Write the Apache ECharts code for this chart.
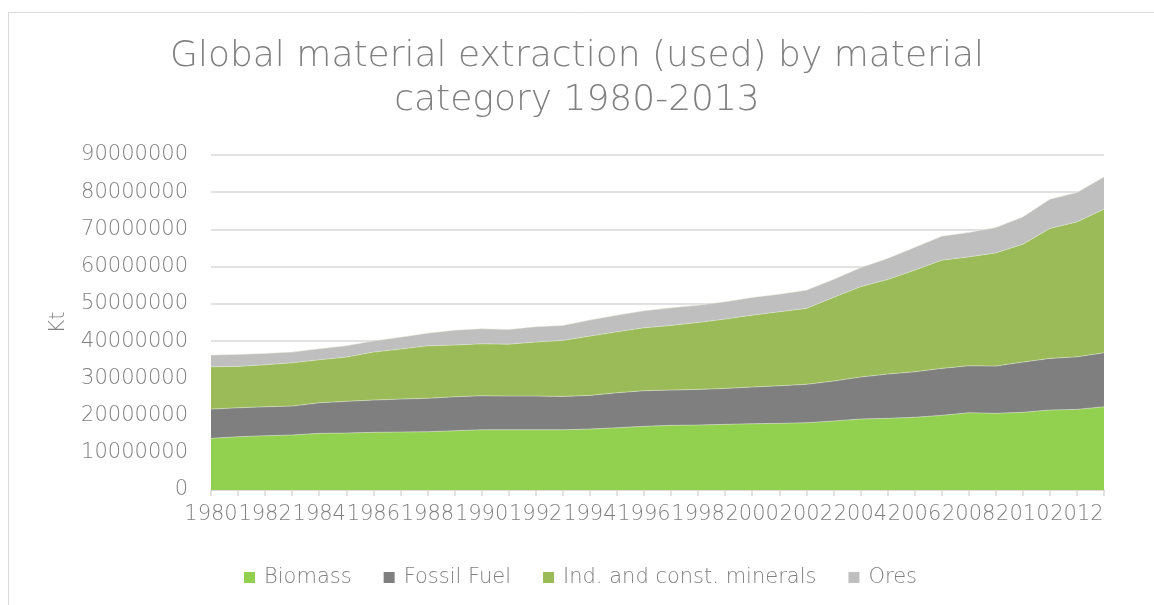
<!DOCTYPE html>
<html>
<head>
<meta charset="utf-8">
<script src="https://cdn.jsdelivr.net/npm/echarts@6/dist/echarts.min.js"></script>
<style>
html,body{margin:0;padding:0;background:#fff;}
#c{width:1154px;height:605px;}
</style>
</head>
<body>
<div id="c"></div>
<script>
const years = ['1980','1981','1982','1983','1984','1985','1986','1987','1988','1989','1990','1991','1992','1993','1994','1995','1996','1997','1998','1999','2000','2001','2002','2003','2004','2005','2006','2007','2008','2009','2010','2011','2012','2013'];
const biomass = [13880000,14310000,14580000,14770000,15220000,15300000,15490000,15570000,15650000,15920000,16190000,16190000,16190000,16190000,16380000,16720000,17100000,17370000,17450000,17640000,17800000,17910000,18070000,18520000,19060000,19250000,19520000,20050000,20750000,20590000,20860000,21480000,21660000,22360000];
const fossilFuel = [7860000,7780000,7780000,7780000,8220000,8510000,8670000,8860000,8970000,9130000,9130000,9040000,9040000,8960000,9040000,9400000,9560000,9480000,9580000,9660000,9850000,10090000,10310000,10740000,11280000,11890000,12240000,12620000,12620000,12700000,13500000,13880000,14120000,14500000];
const minerals = [11360000,11120000,11280000,11620000,11540000,11890000,12890000,13420000,14120000,13880000,13950000,13960000,14500000,15040000,15920000,16380000,16910000,17360000,17990000,18610000,19330000,19870000,20400000,22470000,24240000,25420000,27300000,29070000,29260000,30410000,31680000,34900000,36250000,38580000];
const ores = [3140000,3220000,3060000,2880000,2950000,3040000,3000000,3200000,3400000,4020000,4030000,3950000,4110000,4020000,4300000,4480000,4560000,4730000,4640000,4640000,4750000,4750000,4910000,4830000,5100000,5640000,6090000,6450000,6550000,6820000,7330000,7860000,7890000,8670000];
const seriesNames = ['Biomass','Fossil Fuel','Ind. and const. minerals','Ores'];
const colors = ['#92d050','#7f7f7f','#9bbb59','#bfbfbf'];
const dataSets = [biomass, fossilFuel, minerals, ores];

const font = '"DejaVu Sans", sans-serif';
const txt = '#808080';
const chart = echarts.init(document.getElementById('c'), null, {renderer:'canvas'});
chart.setOption({
  animation:false,
  backgroundColor:'#fff',
  graphic:[{type:'rect', shape:{x:8.5,y:12.5,width:1160,height:620}, style:{fill:'none',stroke:'#d9d9d9',lineWidth:1}}],
  title:{
    text:'Global material extraction (used) by material\ncategory 1980-2013',
    left:'center', top:30, padding:[5,5,5,21],
    textStyle:{fontFamily:font,fontWeight:200,fontSize:36,color:txt,lineHeight:44}
  },
  legend:{
    data:seriesNames, left:239, top:562,
    itemWidth:11, itemHeight:11, itemGap:32, icon:'rect',
    textStyle:{fontFamily:font,fontWeight:200,fontSize:21,color:txt,padding:[0,0,0,4]}
  },
  grid:{left:211,right:50,top:155,bottom:115},
  xAxis:{
    type:'category', data:years, boundaryGap:false,
    axisLine:{lineStyle:{color:'#d9d9d9',width:1.5}},
    axisTick:{show:true,interval:0,length:6,lineStyle:{color:'#d9d9d9',width:1.5}},
    axisLabel:{interval:1,fontFamily:font,fontWeight:200,fontSize:21,color:txt,margin:14,hideOverlap:false},
    splitLine:{show:false}
  },
  yAxis:{
    type:'value', min:0, max:90000000, interval:10000000,
    name:'Kt', nameLocation:'middle', nameGap:142,
    nameTextStyle:{fontFamily:font,fontWeight:200,fontSize:21,color:txt},
    axisLine:{show:false}, axisTick:{show:false},
    axisLabel:{fontFamily:font,fontWeight:200,fontSize:21,color:txt,margin:23,formatter:v=>String(v)},
    splitLine:{lineStyle:{color:'#d9d9d9',width:1.5}}
  },
  series: seriesNames.map((n,i)=>({
    name:n, type:'line', stack:'total', data:dataSets[i],
    symbol:'none', smooth:false,
    lineStyle:{width:0.8,color:'#e6efd9',opacity:0.6},
    areaStyle:{color:colors[i],opacity:1},
    itemStyle:{color:colors[i]}
  }))
});
</script>
</body>
</html>
